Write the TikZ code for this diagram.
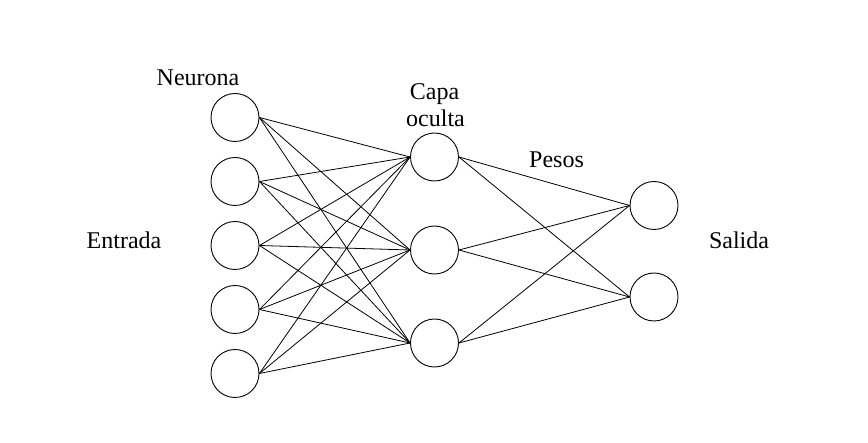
\documentclass[tikz,border=0pt]{standalone}
\usepackage{fontspec}
\setmainfont{Liberation Serif}
\begin{document}
\begin{tikzpicture}[x=1pt,y=-1pt,
  neuron/.style={circle,draw=black,line width=0.9pt,minimum size=48pt,inner sep=0pt},
  edge/.style={line width=0.8pt,draw=black},
  lbl/.style={font=\fontsize{24}{27.4}\selectfont,anchor=base,inner sep=0pt,align=center}]
\useasboundingbox (0,0) rectangle (868,443);
\foreach \i/\y in {1/117.5,2/181.5,3/245.5,4/309.5,5/373.5}
  \node[neuron] (i\i) at (235,\y) {};
\foreach \i/\y in {1/157,2/250,3/343}
  \node[neuron] (h\i) at (434.5,\y) {};
\foreach \i/\y in {1/205.5,2/297}
  \node[neuron] (o\i) at (654,\y) {};
\foreach \i in {1,...,5}
  \foreach \j in {1,2,3}
    \draw[edge] (i\i.east) -- (h\j.west);
\foreach \j in {1,2,3}
  \foreach \k in {1,2}
    \draw[edge] (h\j.east) -- (o\k.west);
\node[lbl] (neurona) at (198,86) {Neurona};
\node[lbl] (capa) at (434.5,99.3) {Capa};
\node[lbl] (oculta) at (435.5,126.7) {oculta};
\node[lbl] (pesos) at (556.5,167.3) {Pesos};
\node[lbl] (entrada) at (124,248.3) {Entrada};
\node[lbl] (salida) at (739,249) {Salida};
\end{tikzpicture}
\end{document}
